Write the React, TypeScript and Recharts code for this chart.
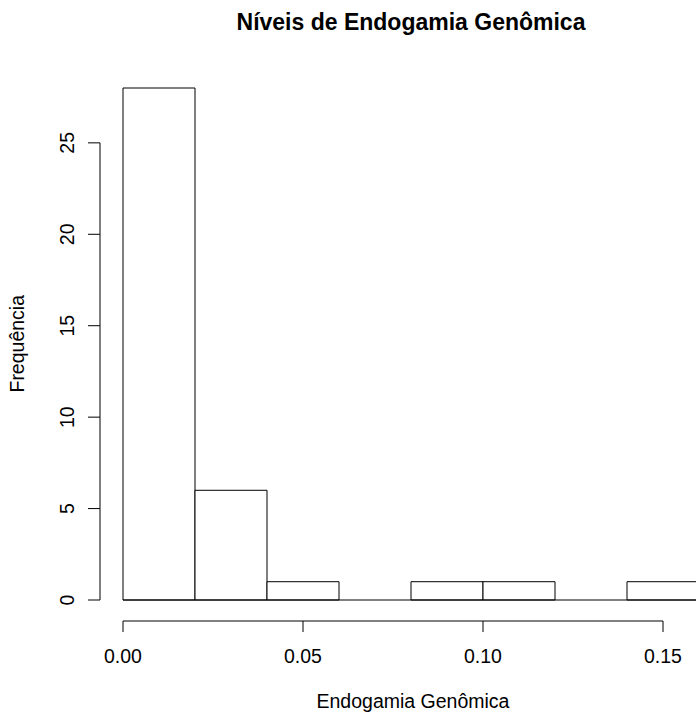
import { BarChart, Bar, XAxis, YAxis, ReferenceLine } from "recharts";

// histogram bins (start of each 0.02-wide bin) and their counts
const binStarts = [0, 0.02, 0.04, 0.06, 0.08, 0.1, 0.12, 0.14];
const binCounts = [28, 6, 1, 0, 1, 1, 0, 1];

const xTicks = [0, 0.05, 0.1, 0.15];
const yTicks = [0, 5, 10, 15, 20, 25];
const xDomain = [0, 0.16];
const yDomain = [0, 28];

const title = "Níveis de Endogamia Genômica";
const xLabel = "Endogamia Genômica";
const yLabel = "Frequência";

const data = binStarts.map((s, i) => ({ bin: s.toFixed(2), start: s, count: binCounts[i] }));

const W = 700;
const H = 713;
const M = { top: 88, right: 1, bottom: 0, left: 0 };
const Y_AXIS_W = 123;
const X_AXIS_H = 113;
const PLOT_W = W - M.left - M.right - Y_AXIS_W;
const PLOT_H = H - M.top - M.bottom - X_AXIS_H;

const FONT = '"Liberation Sans", Arial, sans-serif';

function XTick(props: any) {
  const { x, y, payload, index } = props;
  const w = typeof props.width === "number" ? props.width : PLOT_W;
  const step = (w * (xTicks[1] - xTicks[0])) / (xDomain[1] - xDomain[0]);
  const ay = y + 21;
  return (
    <g>
      {index > 0 && <line x1={x - step} x2={x} y1={ay} y2={ay} stroke="#000" />}
      <line x1={x} x2={x} y1={ay} y2={ay + 11} stroke="#000" />
      <text x={x} y={y + 63} textAnchor="middle" fontSize={19.5} fill="#000" fontFamily={FONT}>
        {Number(payload.value).toFixed(2)}
      </text>
    </g>
  );
}

function YTick(props: any) {
  const { x, y, payload, index } = props;
  const h = typeof props.height === "number" ? props.height : PLOT_H;
  const step = (h * (yTicks[1] - yTicks[0])) / (yDomain[1] - yDomain[0]);
  const ax = x - 23;
  const lx = x - 49;
  return (
    <g>
      {index > 0 && <line x1={ax} x2={ax} y1={y} y2={y + step} stroke="#000" />}
      <line x1={ax - 12} x2={ax} y1={y} y2={y} stroke="#000" />
      <text
        x={lx}
        y={y}
        textAnchor="middle"
        fontSize={19.5}
        fill="#000"
        fontFamily={FONT}
        transform={`rotate(-90, ${lx}, ${y})`}
      >
        {payload.value}
      </text>
    </g>
  );
}

export default function App() {
  return (
    <div
      style={{
        position: "absolute",
        left: 0,
        top: 0,
        width: 696,
        height: 713,
        overflow: "hidden",
        background: "#fff",
        fontFamily: FONT,
        color: "#000",
      }}
    >
      <BarChart width={W} height={H} data={data} margin={M} barCategoryGap={0} barGap={0}>
        <XAxis xAxisId="bins" dataKey="bin" hide height={0} />
        <XAxis
          xAxisId="num"
          dataKey="start"
          type="number"
          domain={xDomain}
          ticks={xTicks}
          interval={0}
          height={X_AXIS_H}
          axisLine={false}
          tickLine={false}
          tickSize={0}
          tickMargin={0}
          tick={<XTick />}
        />
        <YAxis
          domain={yDomain}
          ticks={yTicks}
          interval={0}
          width={Y_AXIS_W}
          axisLine={false}
          tickLine={false}
          tickSize={0}
          tickMargin={0}
          tick={<YTick />}
        />
        <Bar xAxisId="bins" dataKey="count" fill="#fff" stroke="#000" strokeWidth={1} isAnimationActive={false} />
        <ReferenceLine xAxisId="num" y={0} stroke="#000" />
      </BarChart>

      <div
        style={{
          position: "absolute",
          left: 123,
          width: 576,
          top: 10.5,
          fontSize: 23,
          lineHeight: "23px",
          fontWeight: "bold",
          textAlign: "center",
          whiteSpace: "nowrap",
        }}
      >
        {title}
      </div>
      <div
        style={{
          position: "absolute",
          left: 125,
          width: 576,
          top: 691.5,
          fontSize: 19.5,
          lineHeight: "19.5px",
          textAlign: "center",
          whiteSpace: "nowrap",
        }}
      >
        {xLabel}
      </div>
      <div
        style={{
          position: "absolute",
          left: 17.5 - 100,
          top: 344 - 9.75,
          width: 200,
          height: 19.5,
          fontSize: 19.5,
          lineHeight: "19.5px",
          textAlign: "center",
          whiteSpace: "nowrap",
          transform: "rotate(-90deg)",
        }}
      >
        {yLabel}
      </div>
    </div>
  );
}
